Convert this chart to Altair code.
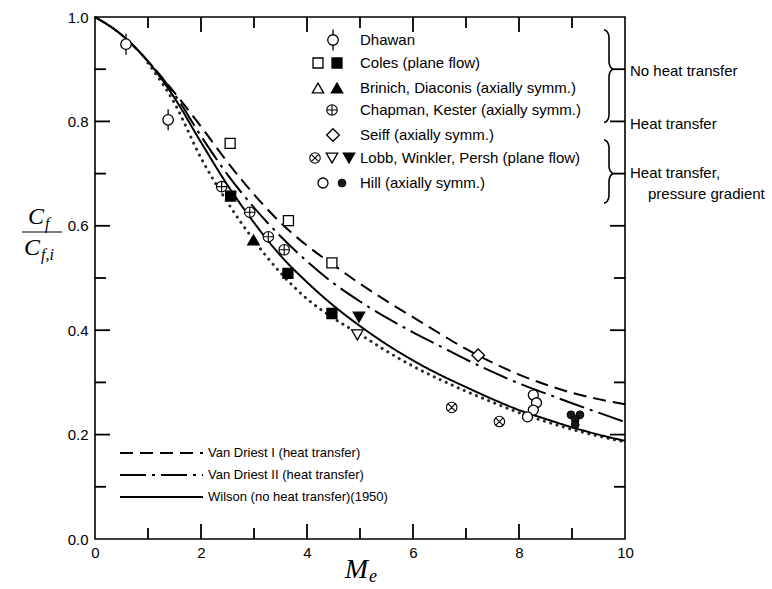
import math
import altair as alt
import pandas as pd

# ---------------- data ----------------
mach = [0.0, 0.5, 1.0, 1.5, 2.0, 2.5, 3.0, 3.5, 4.0, 4.5, 5.0,
        5.5, 6.0, 6.5, 7.0, 7.5, 8.0, 8.5, 9.0, 9.5, 10.0]
van_driest_1 = [1.0, 0.966, 0.915, 0.855, 0.79, 0.722, 0.66, 0.606, 0.562, 0.525, 0.489,
                0.456, 0.425, 0.394, 0.364, 0.338, 0.315, 0.296, 0.28, 0.268, 0.258]
van_driest_2 = [1.0, 0.966, 0.915, 0.852, 0.772, 0.698, 0.635, 0.58, 0.532, 0.49, 0.455,
                0.424, 0.396, 0.37, 0.344, 0.32, 0.298, 0.279, 0.26, 0.242, 0.224]
wilson = [1.0, 0.966, 0.915, 0.845, 0.76, 0.678, 0.606, 0.543, 0.492, 0.447, 0.408,
          0.373, 0.342, 0.315, 0.291, 0.268, 0.247, 0.23, 0.214, 0.2, 0.188]
dotted_mach = [1.0, 1.5, 2.0, 2.5, 3.0, 3.5, 4.0, 4.5, 5.0, 5.5,
               6.0, 6.5, 7.0, 7.5, 8.0, 8.5, 9.0, 9.5, 10.0]
dotted_curve = [0.912, 0.835, 0.73, 0.645, 0.572, 0.51, 0.46, 0.423, 0.392, 0.36,
                0.331, 0.306, 0.283, 0.262, 0.242, 0.225, 0.21, 0.197, 0.186]

dhawan_x, dhawan_y = [0.585, 1.38], [0.948, 0.803]
coles_open_x, coles_open_y = [2.55, 3.65, 4.47], [0.758, 0.61, 0.529]
coles_fill_x, coles_fill_y = [2.56, 3.64, 4.47], [0.657, 0.509, 0.432]
brinich_fill_x, brinich_fill_y = [2.99], [0.573]
chapman_x, chapman_y = [2.39, 2.92, 3.27, 3.57], [0.675, 0.626, 0.579, 0.554]
seiff_x, seiff_y = [7.23], [0.352]
lobb_cross_x, lobb_cross_y = [6.73, 7.63], [0.252, 0.225]
lobb_open_x, lobb_open_y = [4.95], [0.391]
lobb_fill_x, lobb_fill_y = [4.98], [0.425]
hill_open_x, hill_open_y = [8.27, 8.33, 8.27, 8.16], [0.276, 0.261, 0.247, 0.234]
hill_fill_x, hill_fill_y = [8.98, 9.15, 9.06, 9.06], [0.238, 0.238, 0.229, 0.219]

x_ticks = [0, 2, 4, 6, 8, 10]
y_ticks = [0.0, 0.2, 0.4, 0.6, 0.8, 1.0]
x_minor = [1, 3, 5, 7, 9]
x_major_inner = [2, 4, 6, 8]
y_minor = [0.1, 0.3, 0.5, 0.7, 0.9]
y_major_inner = [0.2, 0.4, 0.6, 0.8]

symbol_labels = ["Dhawan", "Coles (plane flow)", "Brinich, Diaconis (axially symm.)",
                 "Chapman, Kester (axially symm.)", "Seiff (axially symm.)",
                 "Lobb, Winkler, Persh (plane flow)", "Hill (axially symm.)"]
group_labels = ["No heat transfer", "Heat transfer", "Heat transfer,", "pressure gradient"]
line_labels = ["Van Driest I (heat transfer)", "Van Driest II (heat transfer)",
               "Wilson (no heat transfer)(1950)"]

# ---------------- layout (pixels in the 772x589 page) ----------------
X0, Y0, W, H = 95, 17, 530, 522
SANS = "Liberation Sans"
SERIF = "Liberation Serif"
MAJOR_LEN, MINOR_LEN = 15, 11


def dx(px):
    return (px - X0) / W * 10.0


def dy(py):
    return (Y0 + H - py) / H


def py_of(v):
    return Y0 + H - v * H


sym_rows = [40, 63, 88, 110, 135, 158, 183]
sym_text_px = 360
group_px = [630, 630, 630, 648]
group_py = [71, 124, 173, 194]
line_rows = [453, 475, 497]

X = alt.X("x:Q", scale=alt.Scale(domain=[0, 10], nice=False, zero=False),
          axis=alt.Axis(values=x_ticks, format="d", title=None, ticks=False, domain=False,
                        grid=False, labelFont=SANS, labelFontSize=15, labelColor="black",
                        labelPadding=6, labelFlush=False))
Y = alt.Y("y:Q", scale=alt.Scale(domain=[0, 1], nice=False, zero=False),
          axis=alt.Axis(values=y_ticks, format=".1f", title=None, ticks=False, domain=False,
                        grid=False, labelFont=SANS, labelFontSize=15, labelColor="black",
                        labelPadding=7, labelFlush=False))


def df(xs, ys):
    return pd.DataFrame({"x": xs, "y": ys})


def curve(xs, ys, dash, width=2.0, cap="butt", color="black"):
    return alt.Chart(df(xs, ys)).mark_line(
        color=color, strokeWidth=width, strokeDash=dash, strokeCap=cap,
        interpolate="monotone").encode(x=X, y=Y)


CIRC = "M-1,0A1,1,0,1,1,1,0A1,1,0,1,1,-1,0Z"
DHAWAN = CIRC + "M0,-1L0,-2M0,1L0,2"
PLUS_CIRC = CIRC + "M-1,0L1,0M0,-1L0,1"
X_CIRC = CIRC + "M-0.71,-0.71L0.71,0.71M-0.71,0.71L0.71,-0.71"


def markers(xs, ys, shape, size, fill, sw=1.3):
    return alt.Chart(df(xs, ys)).mark_point(
        shape=shape, size=size, filled=True, fill=fill, stroke="black",
        strokeWidth=sw, opacity=1, fillOpacity=1).encode(x=X, y=Y)


def leg(px_list, row):
    return [dx(p) for p in px_list], [dy(sym_rows[row])] * len(px_list)


def segments(rows, width=1.2, dash=None):
    """rows: list of (x1, y1, x2, y2) in data units -> one straight line per row"""
    recs = []
    for g, (x1, y1, x2, y2) in enumerate(rows):
        recs.append({"x": x1, "y": y1, "g": g, "o": 0})
        recs.append({"x": x2, "y": y2, "g": g, "o": 1})
    kw = dict(color="black", strokeWidth=width)
    if dash is not None:
        kw["strokeDash"] = dash
    return alt.Chart(pd.DataFrame(recs)).mark_line(**kw).encode(
        x=X, y=Y, detail="g:N", order="o:Q")


layers = []

# curves
layers.append(curve(dotted_mach, dotted_curve, [0.1, 6.5], width=3.0, cap="round", color="#2a2a2a"))
layers.append(curve(mach, wilson, [1, 0]))
layers.append(curve(mach, van_driest_2, [26, 6, 3, 6]))
layers.append(curve(mach, van_driest_1, [13, 7]))

# inward ticks on all four sides, drawn as tick marks placed by the scales
for vals, ln in [(x_major_inner, MAJOR_LEN), (x_minor, MINOR_LEN)]:
    d = pd.DataFrame({"x": vals})
    for ypix in (H - ln / 2.0, ln / 2.0):
        layers.append(alt.Chart(d).mark_tick(color="black", size=ln, thickness=1.8,
                                             orient="vertical", opacity=1)
                      .encode(x=X, y=alt.value(ypix)))
for vals, ln in [(y_major_inner, MAJOR_LEN), (y_minor, MINOR_LEN)]:
    d = pd.DataFrame({"y": vals})
    for xpix in (ln / 2.0, W - ln / 2.0):
        layers.append(alt.Chart(d).mark_tick(color="black", size=ln, thickness=1.8,
                                             orient="horizontal", opacity=1)
                      .encode(y=Y, x=alt.value(xpix)))

# data symbols + symbol legend
lx, ly = leg([333], 0)
layers.append(markers(dhawan_x + lx, dhawan_y + ly, DHAWAN, 110, "white"))
lx, ly = leg([318], 1)
layers.append(markers(coles_open_x + lx, coles_open_y + ly, "square", 100, "white"))
lx, ly = leg([337], 1)
layers.append(markers(coles_fill_x + lx, coles_fill_y + ly, "square", 100, "black"))
lx, ly = leg([318], 2)
layers.append(markers(lx, ly, "triangle-up", 130, "white"))
lx, ly = leg([337], 2)
layers.append(markers(brinich_fill_x + lx, brinich_fill_y + ly, "triangle-up", 130, "black"))
lx, ly = leg([332], 3)
layers.append(markers(chapman_x + lx, chapman_y + ly, PLUS_CIRC, 110, "white", 1.1))
lx, ly = leg([333], 4)
layers.append(markers(seiff_x + lx, seiff_y + ly, "diamond", 160, "white"))
lx, ly = leg([315], 5)
layers.append(markers(lobb_cross_x + lx, lobb_cross_y + ly, X_CIRC, 110, "white", 1.1))
lx, ly = leg([332], 5)
layers.append(markers(lobb_open_x + lx, lobb_open_y + ly, "triangle-down", 130, "white"))
lx, ly = leg([349], 5)
layers.append(markers(lobb_fill_x + lx, lobb_fill_y + ly, "triangle-down", 130, "black"))
lx, ly = leg([323], 6)
layers.append(markers(hill_open_x + lx, hill_open_y + ly, "circle", 100, "white"))
lx, ly = leg([342], 6)
layers.append(markers(hill_fill_x + lx, hill_fill_y + ly, "circle", 60, "#1a1a1a", 1.0))

# symbol legend text
sym_df = pd.DataFrame({"x": [dx(sym_text_px)] * len(symbol_labels),
                       "y": [dy(r) for r in sym_rows], "label": symbol_labels})
layers.append(alt.Chart(sym_df).mark_text(align="left", baseline="middle", font=SANS,
                                          fontSize=15, color="black")
              .encode(x=X, y=Y, text="label:N"))

# group labels on the right
grp_df = pd.DataFrame({"x": [dx(p) for p in group_px], "y": [dy(p) for p in group_py],
                       "label": group_labels})
layers.append(alt.Chart(grp_df).mark_text(align="left", baseline="middle", font=SANS,
                                          fontSize=15, color="black")
              .encode(x=X, y=Y, text="label:N"))


# curly braces drawn from elliptical quarter arcs; their tips meet the right-hand ticks
def arc(cx, cy, rx, ry, a0, a1, n=10):
    return [(cx + rx * math.cos(math.radians(a0 + (a1 - a0) * i / n)),
             cy + ry * math.sin(math.radians(a0 + (a1 - a0) * i / n))) for i in range(n + 1)]


def brace(x0, top, tip, bottom, rx=5, ry=8):
    pts = []
    pts += arc(x0 - rx, top + ry, rx, ry, -90, 0)
    pts += arc(x0 + rx, tip - ry, rx, ry, 180, 90)
    pts += arc(x0 + rx, tip + ry, rx, ry, 270, 180)
    pts += arc(x0 - rx, bottom - ry, rx, ry, 0, 90)
    d = pd.DataFrame({"x": [dx(p[0]) for p in pts], "y": [dy(p[1]) for p in pts],
                      "o": list(range(len(pts)))})
    return alt.Chart(d).mark_line(color="black", strokeWidth=1.6, interpolate="linear").encode(
        x=X, y=Y, order="o:Q")


BX = X0 + W - MINOR_LEN - 5
layers.append(brace(BX, 30, py_of(0.9), py_of(0.8) + 1))
layers.append(brace(BX, 140, py_of(0.7), 203))

# line legend
dashes = [[13, 7], [26, 6, 3, 6], [1, 0]]
for py, dash in zip(line_rows, dashes):
    layers.append(segments([(dx(120), dy(py), dx(203), dy(py))], width=2.2, dash=dash))
line_df = pd.DataFrame({"x": [dx(208)] * 3, "y": [dy(p) for p in line_rows], "label": line_labels})
layers.append(alt.Chart(line_df).mark_text(align="left", baseline="middle", font=SANS,
                                           fontSize=13, color="black")
              .encode(x=X, y=Y, text="label:N"))

# axis titles (math style)
one = pd.DataFrame({"k": [0]})


def txt(s, px, py, size, align="left", italic=True, baseline="alphabetic"):
    return alt.Chart(one).mark_text(text=s, align=align, baseline=baseline, font=SERIF,
                                    fontSize=size, fontStyle="italic" if italic else "normal",
                                    color="black").encode(x=alt.value(px - X0), y=alt.value(py - Y0))


layers.append(txt("M", 368, 578, 28, align="right"))
layers.append(txt("e", 369, 582, 18))
layers.append(txt("C", 44, 224, 24, align="right"))
layers.append(txt("f", 45, 229, 16))
layers.append(segments([(dx(22), dy(232), dx(62), dy(232))], width=1.2))
layers.append(txt("C", 40, 255, 24, align="right"))
layers.append(txt("f,i", 41, 260, 16))

chart = alt.layer(*layers).properties(
    width=W, height=H,
    autosize=alt.AutoSizeParams(type="none"),
    padding={"left": X0, "top": Y0, "right": 772 - X0 - W, "bottom": 589 - Y0 - H},
    background="white",
).configure_view(stroke="black", strokeWidth=1.6)

chart.save("out.html", embed_options={"renderer": "svg", "actions": False})
